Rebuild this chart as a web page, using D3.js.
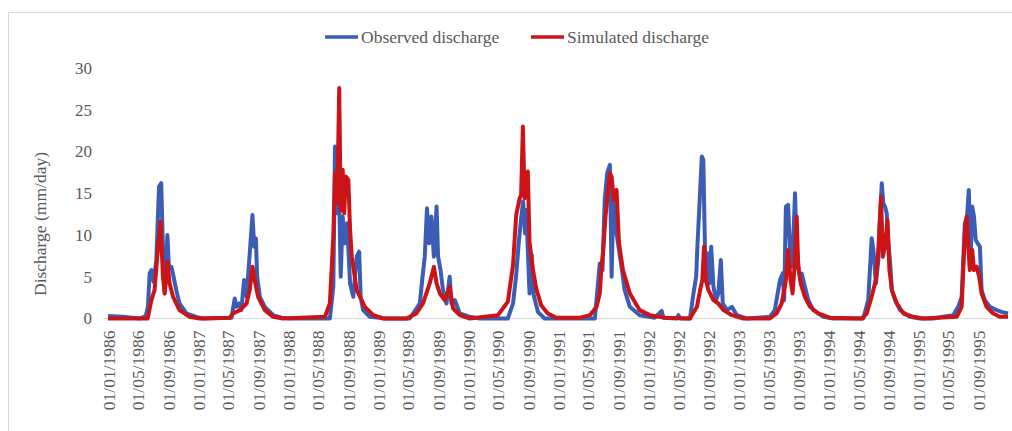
<!DOCTYPE html>
<html>
<head>
<meta charset="utf-8">
<script src="https://cdn.jsdelivr.net/npm/d3@7"></script>
<style>
  body { margin: 0; background: #fff; }
  svg { display: block; }
  svg text { font-family: "Liberation Serif", "Times New Roman", serif; fill: #595959; }
</style>
</head>
<body>
<div id="chart"></div>
<script>
// observed discharge (mm/day), one line per year
const obsDates = [
  "1986-01-01","1986-03-01","1986-05-10","1986-06-03","1986-06-12","1986-06-19","1986-06-26","1986-07-05","1986-07-16","1986-07-27","1986-08-05","1986-08-12","1986-08-19","1986-08-30","1986-09-05","1986-09-15","1986-09-24","1986-10-05","1986-10-18","1986-11-15","1986-12-25",
  "1987-01-20","1987-05-17","1987-05-30","1987-06-06","1987-06-17","1987-06-26","1987-07-07","1987-07-17","1987-07-30","1987-08-10","1987-08-17","1987-08-24","1987-08-29","1987-09-09","1987-09-29","1987-11-02","1987-12-06",
  "1988-01-10","1988-06-19","1988-07-03","1988-07-10","1988-07-19","1988-07-27","1988-08-02","1988-08-10","1988-08-19","1988-08-28","1988-09-09","1988-09-22","1988-10-06","1988-10-16","1988-10-22","1988-11-01","1988-11-28",
  "1989-02-04","1989-05-09","1989-06-19","1989-06-30","1989-07-09","1989-07-18","1989-07-27","1989-08-05","1989-08-15","1989-08-26","1989-09-01","1989-09-11","1989-09-21","1989-10-05","1989-10-18","1989-10-25","1989-11-08","1989-11-28",
  "1990-01-08","1990-02-18","1990-06-11","1990-07-02","1990-07-15","1990-07-25","1990-08-04","1990-08-12","1990-08-20","1990-08-25","1990-08-31","1990-09-07","1990-09-16","1990-09-24","1990-10-11","1990-11-07",
  "1991-05-30","1991-06-19","1991-06-30","1991-07-09","1991-07-19","1991-07-30","1991-08-06","1991-08-12","1991-08-19","1991-08-26","1991-09-05","1991-09-15","1991-09-28","1991-10-19","1991-11-28",
  "1992-01-28","1992-02-25","1992-03-03","1992-04-26","1992-05-03","1992-05-10","1992-06-19","1992-07-03","1992-07-14","1992-07-19","1992-07-27","1992-08-06","1992-08-12","1992-08-19","1992-08-29","1992-09-05","1992-09-13","1992-09-22","1992-10-03","1992-10-12","1992-10-22","1992-10-30","1992-11-16","1992-12-06","1992-12-26",
  "1993-02-04","1993-05-09","1993-05-29","1993-06-19","1993-06-30","1993-07-06","1993-07-13","1993-07-22","1993-07-29","1993-08-05","1993-08-12","1993-08-19","1993-08-26","1993-09-05","1993-09-15","1993-09-28","1993-10-12","1993-11-01","1993-12-12",
  "1994-01-21","1994-05-23","1994-06-12","1994-06-26","1994-07-03","1994-07-13","1994-07-23","1994-07-30","1994-08-06","1994-08-12","1994-08-19","1994-08-26","1994-09-02","1994-09-09","1994-09-16","1994-09-29","1994-10-19","1994-11-28",
  "1995-01-08","1995-03-03","1995-04-12","1995-05-23","1995-06-12","1995-06-26","1995-07-09","1995-07-18","1995-07-25","1995-08-01","1995-08-08","1995-08-15","1995-08-22","1995-08-30","1995-09-08","1995-09-15","1995-09-28","1995-10-18","1995-11-15","1995-12-05","1995-12-31"
];
const obsValues = [
  0.3, 0.2, 0, 0.3, 1.4, 5.4, 5.8, 4.4, 7.0, 15.8, 16.2, 8.2, 3.0, 10.0, 6.2, 6.2, 5.0, 3.4, 1.8, 0.6, 0.2,
  0, 0.1, 2.4, 1.4, 1.8, 1.0, 4.6, 2.6, 7.8, 12.4, 8.6, 9.6, 5.0, 2.6, 1.4, 0.4, 0.1,
  0, 0, 3.8, 20.6, 12.6, 14.6, 5.0, 12.2, 9.0, 11.4, 4.2, 2.6, 7.4, 8.0, 2.6, 1.0, 0.2,
  0, 0, 1.8, 5.0, 7.4, 13.2, 9.0, 12.2, 7.4, 13.4, 7.4, 5.8, 3.4, 1.8, 5.0, 1.8, 2.2, 0.6,
  0.2, 0, 0, 1.8, 5.2, 9.0, 12.0, 14.0, 10.2, 13.0, 8.2, 3.0, 7.6, 2.8, 0.8, 0,
  0, 6.6, 5.8, 14.2, 17.4, 18.4, 5.0, 13.0, 14.6, 10.2, 8.2, 6.2, 3.4, 1.4, 0.4,
  0.1, 0.9, 0.1, 0, 0.4, 0, 0, 3.0, 5.0, 8.6, 13.4, 19.4, 19.0, 7.8, 7.8, 4.2, 8.6, 3.8, 2.2, 3.0, 7.0, 1.8, 1.0, 1.4, 0.4,
  0, 0.2, 1.0, 4.6, 5.4, 2.2, 13.4, 13.6, 8.6, 6.2, 9.4, 15.0, 8.2, 5.4, 5.4, 3.8, 2.2, 1.0, 0.2,
  0, 0, 2.2, 9.6, 8.2, 4.2, 7.0, 12.2, 16.2, 13.8, 13.4, 12.6, 9.0, 6.6, 3.4, 2.2, 1.0, 0.2,
  0, 0, 0.2, 0.4, 1.4, 2.6, 11.4, 12.2, 15.4, 7.0, 13.4, 12.2, 9.4, 9.0, 8.6, 3.4, 2.2, 1.4, 1.0, 0.8, 0.6
];

// simulated discharge (mm/day)
const simDates = [
  "1986-01-01","1986-06-11","1986-06-26","1986-07-09","1986-07-22","1986-08-02","1986-08-12","1986-08-19","1986-08-30","1986-09-08","1986-09-22","1986-10-18","1986-11-28",
  "1987-01-08","1987-05-10","1987-05-23","1987-06-20","1987-07-17","1987-07-30","1987-08-10","1987-08-19","1987-09-02","1987-09-29","1987-11-02","1987-12-11",
  "1988-05-30","1988-06-19","1988-07-03","1988-07-10","1988-07-19","1988-07-27","1988-08-02","1988-08-10","1988-08-16","1988-08-23","1988-09-02","1988-09-09","1988-09-16","1988-10-06","1988-10-19","1988-11-08","1988-12-12",
  "1989-01-21","1989-04-26","1989-06-05","1989-07-02","1989-07-29","1989-08-15","1989-08-26","1989-09-08","1989-09-28","1989-10-18","1989-11-01","1989-11-28",
  "1990-01-08","1990-05-02","1990-06-11","1990-07-02","1990-07-15","1990-07-29","1990-08-04","1990-08-11","1990-08-18","1990-08-24","1990-08-31","1990-09-07","1990-09-20","1990-10-04","1990-10-24","1990-11-20","1990-12-24",
  "1991-04-01","1991-05-10","1991-06-06","1991-06-19","1991-06-26","1991-07-03","1991-07-13","1991-07-23","1991-07-30","1991-08-06","1991-08-15","1991-08-26","1991-09-05","1991-09-21","1991-10-19","1991-11-28",
  "1992-01-08","1992-03-10","1992-06-19","1992-07-17","1992-07-30","1992-08-08","1992-08-15","1992-08-22","1992-09-02","1992-09-22","1992-10-12","1992-11-02","1992-12-06",
  "1993-01-21","1993-05-09","1993-06-05","1993-06-26","1993-07-13","1993-07-22","1993-08-01","1993-08-09","1993-08-17","1993-08-26","1993-09-01","1993-09-11","1993-09-28","1993-10-19","1993-11-21",
  "1994-01-07","1994-05-17","1994-06-06","1994-06-26","1994-07-13","1994-07-23","1994-08-03","1994-08-10","1994-08-19","1994-08-29","1994-09-06","1994-09-16","1994-10-06","1994-11-02","1994-12-12",
  "1995-01-21","1995-06-06","1995-06-26","1995-07-09","1995-07-16","1995-07-22","1995-07-29","1995-08-08","1995-08-15","1995-08-26","1995-09-05","1995-09-15","1995-10-05","1995-11-01","1995-11-28","1995-12-31"
];
const simValues = [
  0, 0, 2.2, 3.4, 8.2, 11.6, 5.0, 3.0, 6.8, 4.2, 2.6, 1.0, 0.2,
  0, 0.1, 0.6, 1.0, 1.8, 3.4, 6.2, 4.6, 2.6, 1.0, 0.2, 0,
  0.2, 1.8, 9.8, 17.4, 13.8, 27.6, 13.0, 17.8, 12.6, 17.0, 16.6, 10.6, 7.4, 3.4, 2.6, 1.4, 0.4,
  0, 0, 0.6, 1.8, 4.2, 6.2, 4.2, 3.0, 2.2, 3.8, 1.2, 0.4,
  0, 0.4, 2.0, 6.4, 12.4, 14.4, 14.8, 23.0, 14.4, 16.4, 17.6, 9.2, 6.0, 3.6, 1.6, 0.6, 0.1,
  0.1, 0.4, 1.4, 3.0, 6.2, 8.2, 12.5, 15.4, 17.4, 17.0, 14.2, 15.4, 9.0, 5.8, 3.0, 1.0,
  0.4, 0.1, 0, 1.4, 3.4, 4.6, 8.6, 4.6, 3.4, 2.2, 1.8, 1.0, 0.4,
  0, 0, 0.6, 1.8, 4.6, 8.2, 4.6, 3.0, 6.2, 12.2, 6.2, 4.2, 2.6, 1.4, 0.6,
  0.1, 0, 0.6, 2.6, 4.6, 8.2, 14.6, 7.4, 8.6, 11.8, 5.8, 3.4, 1.8, 0.6, 0.2,
  0, 0.2, 1.4, 10.2, 12.2, 9.0, 5.8, 8.2, 5.8, 6.2, 5.0, 3.0, 1.4, 0.6, 0.2, 0.2
];

const tickLabels = [
  "01/01/1986","01/05/1986","01/09/1986","01/01/1987","01/05/1987","01/09/1987",
  "01/01/1988","01/05/1988","01/09/1988","01/01/1989","01/05/1989","01/09/1989",
  "01/01/1990","01/05/1990","01/09/1990","01/01/1991","01/05/1991","01/09/1991",
  "01/01/1992","01/05/1992","01/09/1992","01/01/1993","01/05/1993","01/09/1993",
  "01/01/1994","01/05/1994","01/09/1994","01/01/1995","01/05/1995","01/09/1995"
];
const yTicks = [0, 5, 10, 15, 20, 25, 30];

const seriesNames = ["Observed discharge", "Simulated discharge"];
const seriesColors = ["#3c5db6", "#cc1417"];

const [width, height] = [1012, 431];
const serif = "'Liberation Serif', 'Times New Roman', serif";
const parseIso = d3.timeParse("%Y-%m-%d");
const parseTick = d3.timeParse("%d/%m/%Y");

const observed = obsDates.map((d, i) => ({ date: parseIso(d), value: obsValues[i] }));
const simulated = simDates.map((d, i) => ({ date: parseIso(d), value: simValues[i] }));

const x = d3.scaleTime()
  .domain([parseIso("1986-01-01"), parseIso("1995-12-31")])
  .range([108, 1008]);

const y = d3.scaleLinear()
  .domain([0, 30])
  .range([318.5, 68]);

const svg = d3.select("#chart")
  .append("svg")
  .attr("width", width)
  .attr("height", height);

svg.append("rect")
  .attr("x", 8.5).attr("y", 12.5)
  .attr("width", 1020).attr("height", 440)
  .attr("fill", "#fff")
  .attr("stroke", "#d9d9d9");

// baseline
svg.append("line")
  .attr("x1", 104).attr("x2", 1008)
  .attr("y1", y(0)).attr("y2", y(0))
  .attr("stroke", "#d9d9d9")
  .attr("stroke-width", 1);

// y axis
const yAxis = svg.append("g")
  .attr("transform", "translate(100,0)")
  .call(d3.axisLeft(y).tickValues(yTicks).tickSize(0).tickPadding(8));
yAxis.attr("font-family", null).attr("font-size", null);
yAxis.select(".domain").remove();
yAxis.selectAll("text")
  .style("font-family", serif)
  .style("font-size", "17px")
  .style("fill", "#595959");

// x axis
const xAxis = svg.append("g")
  .attr("transform", `translate(0,${y(0)})`)
  .call(d3.axisBottom(x)
    .tickValues(tickLabels.map(parseTick))
    .tickFormat(d3.timeFormat("%d/%m/%Y"))
    .tickSize(0));
xAxis.attr("font-family", null).attr("font-size", null);
xAxis.select(".domain").remove();
xAxis.selectAll("text")
  .style("font-family", serif)
  .style("font-size", "17.5px")
  .style("fill", "#595959")
  .attr("text-anchor", "end")
  .attr("transform", "rotate(-90)")
  .attr("x", -12)
  .attr("y", 0)
  .attr("dy", "0.35em");

svg.append("text")
  .attr("transform", "translate(46,224) rotate(-90)")
  .attr("text-anchor", "middle")
  .style("font-family", serif)
  .style("font-size", "17.5px")
  .text("Discharge (mm/day)");

const line = d3.line()
  .x(d => x(d.date))
  .y(d => y(d.value));

svg.selectAll("path.series")
  .data([observed, simulated])
  .enter().append("path")
  .attr("class", "series")
  .attr("d", line)
  .attr("fill", "none")
  .attr("stroke", (d, i) => seriesColors[i])
  .attr("stroke-width", 4)
  .attr("stroke-linejoin", "round");

// legend
const legend = svg.append("g");
const legendX = [325, 531];
seriesNames.forEach((name, i) => {
  legend.append("line")
    .attr("x1", legendX[i]).attr("x2", legendX[i] + 33)
    .attr("y1", 37).attr("y2", 37)
    .attr("stroke", seriesColors[i])
    .attr("stroke-width", 3.5);
  legend.append("text")
    .attr("x", legendX[i] + 36)
    .attr("y", 43)
    .style("font-family", serif)
    .style("font-size", "17.5px")
    .text(name);
});
</script>
</body>
</html>
